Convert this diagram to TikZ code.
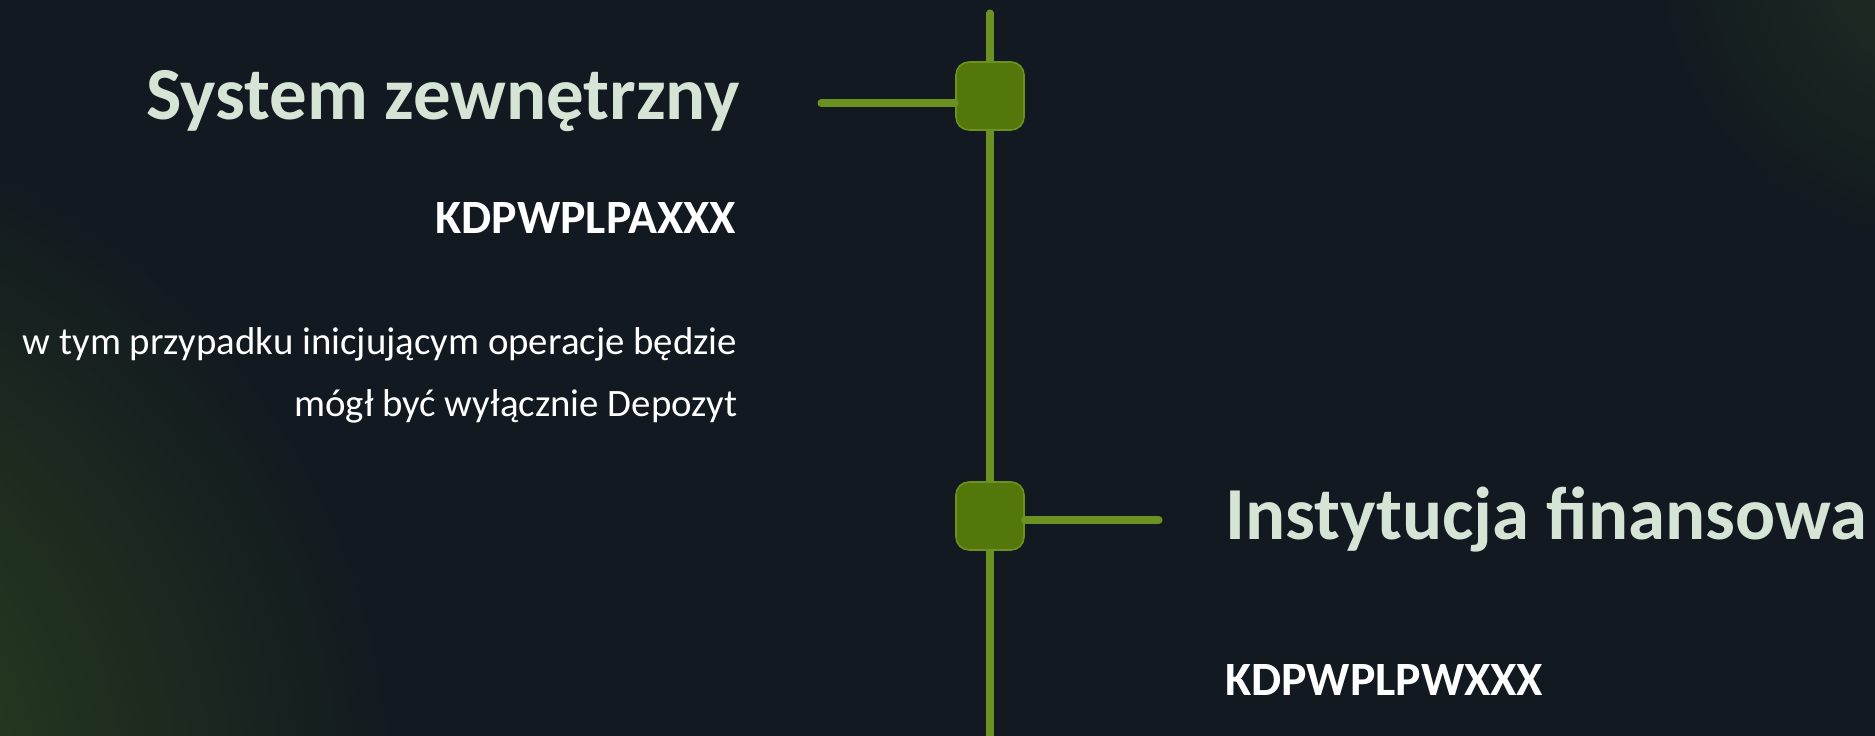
\documentclass[tikz,border=0pt]{standalone}
\usepackage{fontspec}
\setmainfont{Carlito}
\definecolor{bgcol}{HTML}{121920}
\definecolor{glowleft}{HTML}{324D1E}
\definecolor{glowright}{HTML}{203123}
\definecolor{linegreen}{HTML}{6B9120}
\definecolor{boxgreen}{HTML}{53770A}
\definecolor{titlecol}{HTML}{D6E4D6}
\begin{document}
\begin{tikzpicture}[
    conn/.style={draw=linegreen, line width=2pt, line cap=round},
    sqbox/.style={draw=linegreen, fill=boxgreen, line width=0.45pt, rounded corners=3.7pt, minimum size=0.68cm, inner sep=0pt},
    titletext/.style={text=titlecol, font=\fontsize{21.3}{25}\selectfont\bfseries, inner sep=0pt},
    codetext/.style={text=white, font=\fontsize{13.6}{16}\selectfont\bfseries, inner sep=0pt},
    desctext/.style={text=white, font=\fontsize{11.05}{14}\selectfont, inner sep=0pt}
  ]
    \useasboundingbox (0,0) rectangle (18.75,7.36);
    \clip (0,0) rectangle (18.75,7.36);
    \fill[bgcol] (0,0) rectangle (18.75,7.36);
    % background glow
    \shade[inner color=glowleft, outer color=bgcol] (-3,-0.64) circle (7);
    \shade[inner color=glowright, outer color=bgcol] (19.5,7.86) circle (3);
    % timeline
    \coordinate (top) at (9.9,7.23);
    \coordinate (bottom) at (9.9,-0.3);
    \draw[conn] (top) -- (bottom);
    \node[sqbox] (extbox) at (9.9,6.40){};
    \node[sqbox] (finbox) at (9.9,2.20){};
    \coordinate (extend) at (8.21,6.33);
    \coordinate (finend) at (11.59,2.16);
    \draw[conn] (extend) -- (extend -| extbox.west);
    \draw[conn] (finbox.east |- finend) -- (finend);
    % left side
    \node[titletext, anchor=base east] (exttitle) at (7.41,6.16){System zewnętrzny};
    \node[codetext, anchor=base east] (extcode) at (7.37,5.025){KDPWPLPAXXX};
    \node[desctext, anchor=base east] (extdesc1) at (7.38,3.81){w tym przypadku inicjującym operacje będzie};
    \node[desctext, anchor=base east] (extdesc2) at (7.38,3.19){mógł być wyłącznie Depozyt};
    % right side
    \node[titletext, anchor=base west] (fintitle) at (12.245,1.96){Instytucja finansowa};
    \node[codetext, anchor=base west] (fincode) at (12.245,0.40){KDPWPLPWXXX};
\end{tikzpicture}
\end{document}
